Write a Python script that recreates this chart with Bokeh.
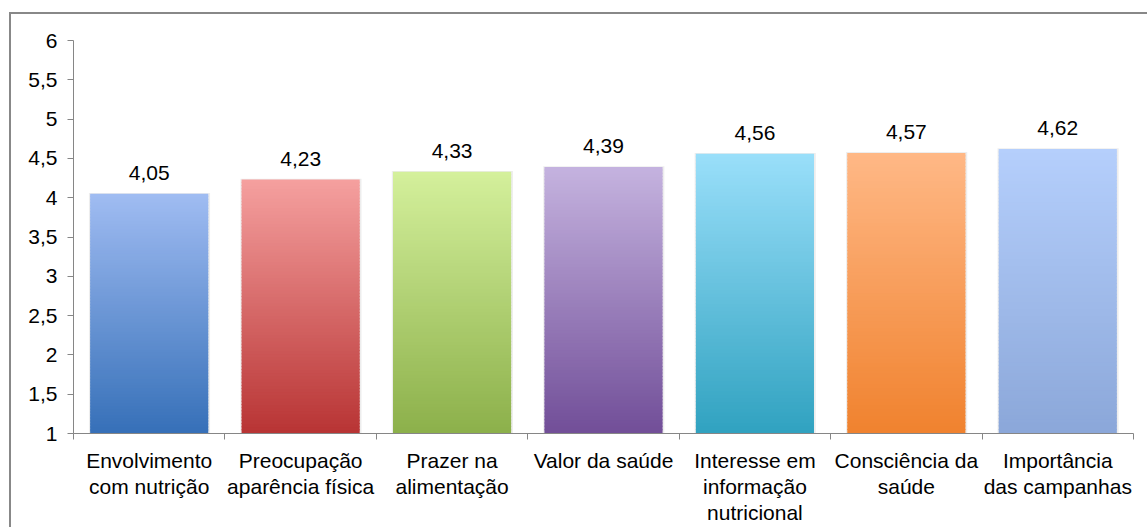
from bokeh.plotting import figure
from bokeh.models import FixedTicker, ColumnDataSource
from bokeh.core.properties import value
from bokeh.embed import file_html
from bokeh.resources import INLINE

categories = ["Envolvimento\ncom nutrição", "Preocupação\naparência física", "Prazer na\nalimentação",
              "Valor da saúde", "Interesse em\ninformação\nnutricional", "Consciência da\nsaúde",
              "Importância\ndas campanhas"]
values = [4.05, 4.23, 4.33, 4.39, 4.56, 4.57, 4.62]
value_labels = ["4,05", "4,23", "4,33", "4,39", "4,56", "4,57", "4,62"]
top_colors = ["#A0BCF2", "#F5A09F", "#D4F09C", "#C5B3DF", "#9ADFFA", "#FFB886", "#B5CFFC"]
bottom_colors = ["#3670B8", "#B83434", "#8CB04A", "#714E98", "#30A2C0", "#F0822E", "#8BA7D9"]
y_ticks = [1, 1.5, 2, 2.5, 3, 3.5, 4, 4.5, 5, 5.5, 6]
y_tick_labels = ["1", "1,5", "2", "2,5", "3", "3,5", "4", "4,5", "5", "5,5", "6"]

FONT = "Liberation Sans"
BASE = 1.0
N = 80
BAR_W = 0.78

def hex2rgb(h):
    h = h.lstrip("#")
    return tuple(int(h[i:i + 2], 16) for i in (0, 2, 4))

def mix(c1, c2, t):
    a, b = hex2rgb(c1), hex2rgb(c2)
    return "#%02x%02x%02x" % tuple(round(a[i] + (b[i] - a[i]) * t) for i in range(3))

p = figure(width=1138, height=515, x_range=(0, len(values)), y_range=(1, 6),
           output_backend="svg", toolbar_location=None,
           min_border_left=62, min_border_right=16, min_border_top=26, min_border_bottom=96)
p.margin = (12, 0, 0, 9)
p.styles = {"border-top": "2px solid #888888", "border-left": "2px solid #888888"}
p.outline_line_color = None
p.xgrid.grid_line_color = None
p.ygrid.grid_line_color = None
p.background_fill_color = "white"
p.border_fill_color = "white"

# shadows
xs = [i + 0.5 for i in range(len(values))]
p.quad(left=[x - BAR_W / 2 - 0.008 for x in xs], right=[x + BAR_W / 2 + 0.012 for x in xs],
       bottom=[BASE] * len(values), top=[v + 0.01 for v in values],
       fill_color="#000000", fill_alpha=0.07, line_color=None)

# gradient bars
L, R, B, T, C = [], [], [], [], []
for i, v in enumerate(values):
    h = (v - BASE) / N
    for k in range(N):
        L.append(xs[i] - BAR_W / 2)
        R.append(xs[i] + BAR_W / 2)
        B.append(BASE + k * h)
        T.append(BASE + (k + 1) * h + (h * 0.3 if k < N - 1 else 0))
        C.append(mix(bottom_colors[i], top_colors[i], (k + 0.5) / N))
src = ColumnDataSource(dict(left=L, right=R, bottom=B, top=T, color=C))
p.quad(left="left", right="right", bottom="bottom", top="top", fill_color="color",
       line_color=None, source=src)

# value labels
p.text(x=xs, y=values, text=value_labels, text_align="center", text_baseline="bottom",
       y_offset=-14, text_font=value(FONT), text_font_size="21px", text_color="black")

# axes
ya = p.yaxis[0]
ya.ticker = FixedTicker(ticks=y_ticks)
ya.major_label_overrides = {t: l for t, l in zip(y_ticks, y_tick_labels)}
ya.axis_line_color = "#868686"
ya.major_tick_line_color = "#868686"
ya.major_tick_out = 6
ya.major_tick_in = 0
ya.minor_tick_line_color = None
ya.major_label_text_font = FONT
ya.major_label_text_font_size = "21px"
ya.major_label_text_color = "black"
ya.major_label_standoff = 10

xa = p.xaxis[0]
xa.ticker = FixedTicker(ticks=xs, minor_ticks=list(range(len(values) + 1)))
xa.major_label_overrides = {x: c for x, c in zip(xs, categories)}
xa.axis_line_color = "#868686"
xa.major_tick_line_color = None
xa.minor_tick_line_color = "#868686"
xa.minor_tick_out = 6
xa.minor_tick_in = 0
xa.major_label_text_font = FONT
xa.major_label_text_font_size = "21px"
xa.major_label_text_color = "black"
xa.major_label_standoff = 9
xa.major_label_text_line_height = 1.15

open("out.html", "w").write(file_html(p, INLINE))
